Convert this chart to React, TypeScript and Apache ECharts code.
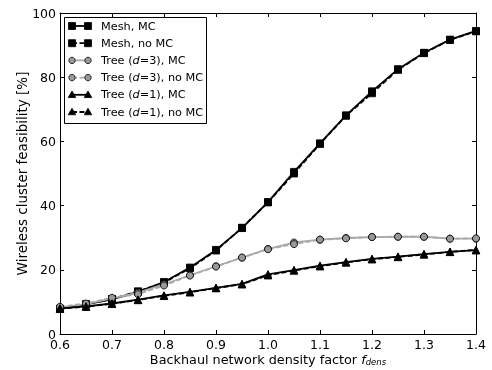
import React, { useEffect, useRef } from "react";
import * as echarts from "echarts";

const xs = [0.6, 0.65, 0.7, 0.75, 0.8, 0.85, 0.9, 0.95, 1.0, 1.05, 1.1, 1.15, 1.2, 1.25, 1.3, 1.35, 1.4];
const meshMC = [7.8, 9.2, 10.8, 13.1, 16.2, 20.7, 26.2, 33.0, 41.1, 50.5, 59.4, 68.1, 75.6, 82.5, 87.6, 91.7, 94.4];
const meshNoMC = [7.9, 9.3, 10.9, 13.3, 16.0, 20.5, 26.0, 33.1, 41.0, 50.0, 59.2, 68.0, 75.0, 82.3, 87.5, 91.6, 94.3];
const tree3MC = [8.3, 9.3, 11.1, 12.9, 15.5, 18.3, 21.1, 23.8, 26.5, 28.5, 29.4, 29.9, 30.2, 30.3, 30.3, 29.7, 29.7];
const tree3NoMC = [8.5, 9.5, 11.3, 12.4, 15.1, 18.2, 21.0, 23.8, 26.4, 28.0, 29.4, 29.8, 30.2, 30.3, 30.3, 29.7, 29.8];
const tree1MC = [8.0, 8.6, 9.5, 10.7, 12.0, 13.1, 14.4, 15.6, 18.6, 19.9, 21.3, 22.4, 23.4, 24.1, 24.9, 25.6, 26.1];
const tree1NoMC = [7.9, 8.5, 9.4, 10.6, 11.9, 13.0, 14.3, 15.5, 18.3, 19.8, 21.1, 22.3, 23.3, 24.0, 24.8, 25.6, 26.2];
const xTicks = [0.6, 0.7, 0.8, 0.9, 1.0, 1.1, 1.2, 1.3, 1.4];
const yTicks = [0, 20, 40, 60, 80, 100];

const FONT = "DejaVu Sans";
const GRAY_LINE = "#aaaaaa";
const GRAY_FILL = "#999999";

type Def = { name: string; rich: string; data: number[]; symbol: string; size: number; line: string; fill: string; dashed: boolean };

const defs: Def[] = [
  { name: "Mesh, MC", rich: "Mesh, MC", data: meshMC, symbol: "rect", size: 7, line: "#000", fill: "#000", dashed: false },
  { name: "Mesh, no MC", rich: "Mesh, no MC", data: meshNoMC, symbol: "rect", size: 7, line: "#000", fill: "#000", dashed: true },
  { name: "Tree (d=3), MC", rich: "Tree ({i|d}=3), MC", data: tree3MC, symbol: "circle", size: 7, line: GRAY_LINE, fill: GRAY_FILL, dashed: false },
  { name: "Tree (d=3), no MC", rich: "Tree ({i|d}=3), no MC", data: tree3NoMC, symbol: "circle", size: 7, line: GRAY_LINE, fill: GRAY_FILL, dashed: true },
  { name: "Tree (d=1), MC", rich: "Tree ({i|d}=1), MC", data: tree1MC, symbol: "triangle", size: 7.5, line: "#000", fill: "#000", dashed: false },
  { name: "Tree (d=1), no MC", rich: "Tree ({i|d}=1), no MC", data: tree1NoMC, symbol: "triangle", size: 7.5, line: "#000", fill: "#000", dashed: true },
];

function markerGraphic(d: Def, cx: number, cy: number): any {
  const s = d.size;
  const style = { fill: d.fill, stroke: "#000", lineWidth: 0.8 };
  if (d.symbol === "rect") return { type: "rect", shape: { x: cx - s / 2, y: cy - s / 2, width: s, height: s }, style };
  if (d.symbol === "circle") return { type: "circle", shape: { cx, cy, r: s / 2 - 0.3 }, style };
  return { type: "polygon", shape: { points: [[cx, cy - s / 2], [cx + s / 2, cy + s / 2 - 1], [cx - s / 2, cy + s / 2 - 1]] }, style };
}

export default function App() {
  const ref = useRef<HTMLDivElement>(null);
  useEffect(() => {
    if (!ref.current) return;
    const chart = echarts.init(ref.current, undefined, { renderer: "svg" });

    const series: any[] = defs.map((d) => ({
      type: "line",
      name: d.name,
      data: xs.map((x, i) => [x, d.data[i]]),
      symbol: d.symbol,
      symbolSize: d.size,
      lineStyle: { color: d.line, width: 1.8, type: d.dashed ? [5, 2.5] : "solid" },
      itemStyle: { color: d.fill, borderColor: "#000", borderWidth: 0.8 },
      z: 2,
    }));

    const legendEls: any[] = [
      { type: "rect", shape: { x: 64.5, y: 17.5, width: 142, height: 106 }, style: { fill: "#fff", stroke: "#000", lineWidth: 1 }, z: 10 },
    ];
    defs.forEach((d, i) => {
      const cy = 26 + i * 17.2;
      legendEls.push({
        type: "line",
        shape: { x1: 72, y1: cy, x2: 88, y2: cy },
        style: { stroke: d.line, lineWidth: 1.8, lineDash: d.dashed ? [5, 2.5] : null },
        z: 11,
      });
      legendEls.push({ ...markerGraphic(d, 72, cy), z: 12 });
      legendEls.push({ ...markerGraphic(d, 88, cy), z: 12 });
      legendEls.push({
        type: "text",
        x: 101,
        y: cy,
        style: {
          text: d.rich,
          fontFamily: FONT,
          fontSize: 11.3,
          fill: "#000",
          verticalAlign: "middle",
          rich: { i: { fontStyle: "italic", fontFamily: FONT, fontSize: 11.3 } },
        },
        z: 12,
      });
    });

    const axisCommon = {
      type: "value" as const,
      axisLine: { show: true, onZero: false, lineStyle: { color: "#000", width: 1 } },
      axisTick: { show: true, inside: true, length: 4, lineStyle: { color: "#000" } },
      splitLine: { show: false },
    };

    chart.setOption({
      animation: false,
      grid: { left: 60, right: 16, top: 13, bottom: 36, containLabel: false, outerBoundsMode: "none" },
      xAxis: [
        {
          ...axisCommon,
          position: "bottom",
          min: xTicks[0],
          max: xTicks[xTicks.length - 1],
          interval: 0.1,
          axisLabel: { fontFamily: FONT, fontSize: 12.5, color: "#000", margin: 4, formatter: (v: number) => v.toFixed(1) },
          name: "Backhaul network density factor {f|f}{sub|dens}",
          nameLocation: "middle",
          nameGap: 18.5,
          nameMoveOverlap: false,
          nameTextStyle: {
            fontFamily: FONT,
            fontSize: 12.8,
            lineHeight: 14,
            color: "#000",
            verticalAlign: "top",
            rich: {
              f: { fontFamily: FONT, fontSize: 12.8, fontStyle: "italic", color: "#000", lineHeight: 14 },
              sub: { fontFamily: FONT, fontSize: 8.5, fontStyle: "italic", color: "#000", verticalAlign: "bottom", lineHeight: 14, padding: [4, 0, 0, 0] },
            },
          },
        },
        {
          ...axisCommon,
          position: "top",
          min: xTicks[0],
          max: xTicks[xTicks.length - 1],
          interval: 0.1,
          axisLabel: { show: false },
        },
      ],
      yAxis: [
        {
          ...axisCommon,
          position: "left",
          min: yTicks[0],
          max: yTicks[yTicks.length - 1],
          interval: 20,
          axisLabel: { fontFamily: FONT, fontSize: 12.5, color: "#000", margin: 4 },
          name: "Wireless cluster feasibility [%]",
          nameLocation: "middle",
          nameGap: 31,
          nameMoveOverlap: false,
          nameTextStyle: { fontFamily: FONT, fontSize: 13.5, color: "#000" },
        },
        {
          ...axisCommon,
          position: "right",
          min: yTicks[0],
          max: yTicks[yTicks.length - 1],
          interval: 20,
          axisLabel: { show: false },
        },
      ],
      series,
      graphic: { elements: legendEls },
    });
    return () => chart.dispose();
  }, []);
  return <div ref={ref} style={{ position: "fixed", left: 0, top: 0, width: 492, height: 370 }} />;
}
